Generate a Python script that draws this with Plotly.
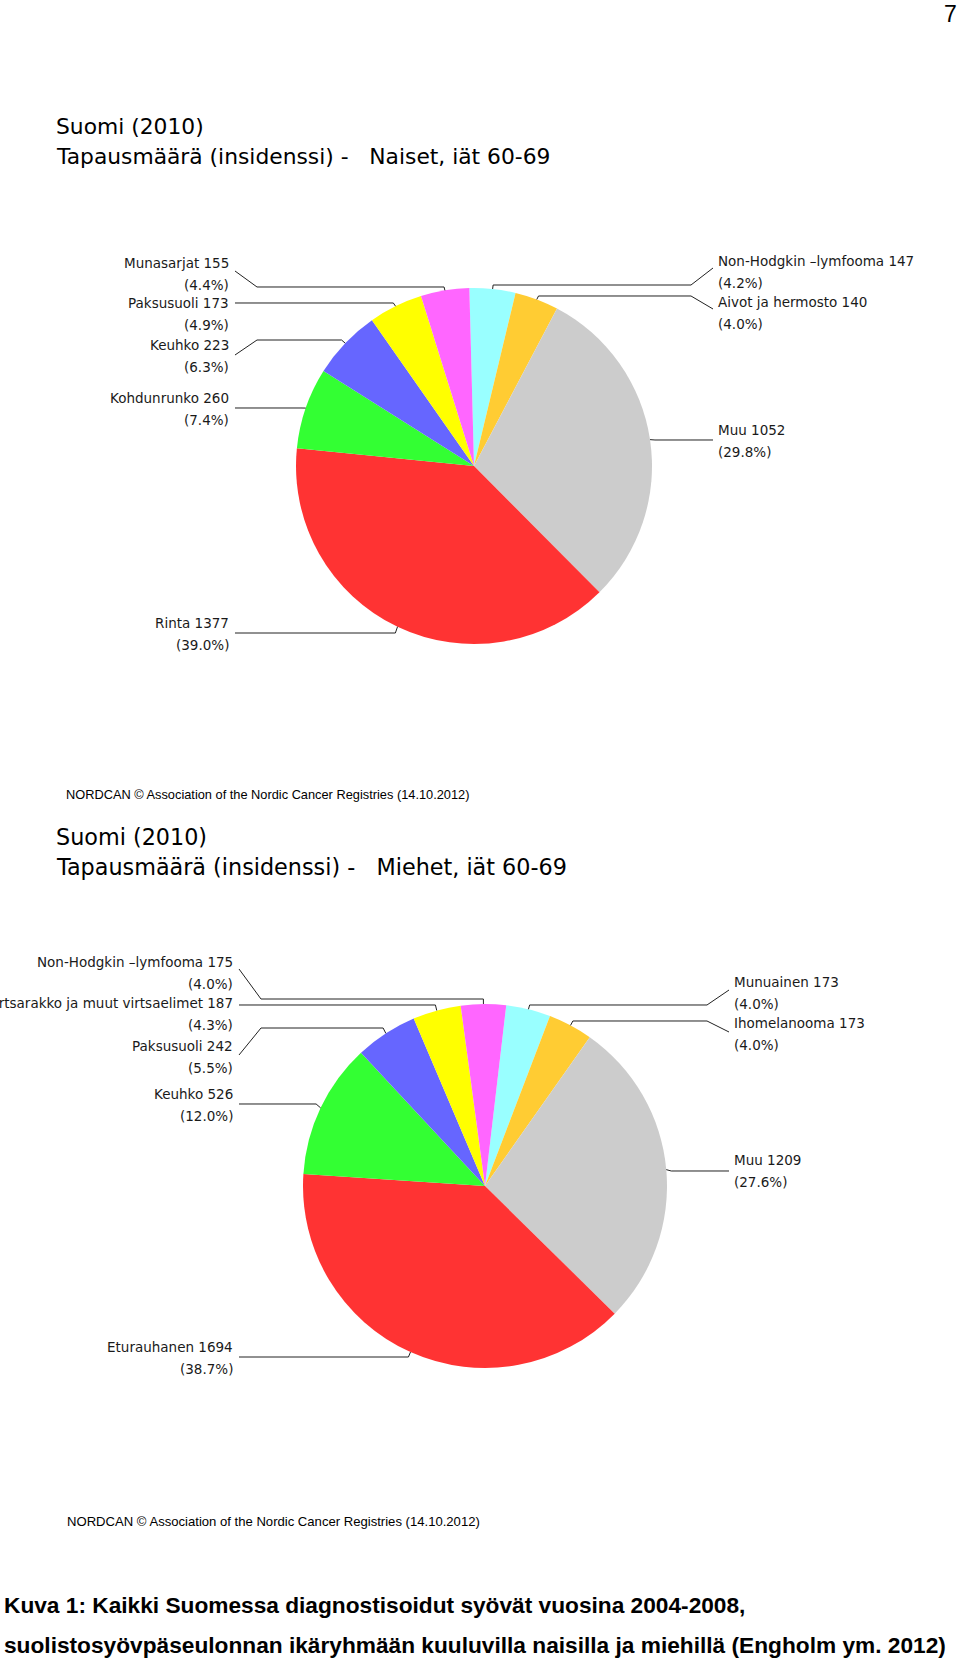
import math
import plotly.graph_objects as go

W, H = 960, 1660

# ---------------- data ----------------
women_labels = ["Non-Hodgkin –lymfooma", "Aivot ja hermosto", "Muu", "Rinta",
                "Kohdunrunko", "Keuhko", "Paksusuoli", "Munasarjat"]
women_values = [147, 140, 1052, 1377, 260, 223, 173, 155]

men_labels = ["Munuainen", "Ihomelanooma", "Muu", "Eturauhanen",
              "Keuhko", "Paksusuoli", "Virtsarakko ja muut virtsaelimet", "Non-Hodgkin –lymfooma"]
men_values = [173, 173, 1209, 1694, 526, 242, 187, 175]

slice_colors = ["#99FFFF", "#FFCC33", "#CCCCCC", "#FF3333",
                "#33FF33", "#6666FF", "#FFFF00", "#FF66FF"]

title_line1 = "Suomi (2010)"
women_title2 = "Tapausmäärä (insidenssi) -\u00a0\u00a0 Naiset, iät 60-69"
men_title2 = "Tapausmäärä (insidenssi) -\u00a0\u00a0 Miehet, iät 60-69"
source_text = "NORDCAN © Association of the Nordic Cancer Registries (14.10.2012)"
caption1 = "Kuva 1: Kaikki Suomessa diagnostisoidut syövät vuosina 2004-2008,"
caption2 = "suolistosyövpäseulonnan ikäryhmään kuuluvilla naisilla ja miehillä (Engholm ym. 2012)"
page_no = "7"

# ---------------- layout constants (pixels) ----------------
PIE1 = dict(cx=474, cy=466, r=178, rot=-1.5)
PIE2 = dict(cx=485, cy=1186, r=182, rot=6.7)

# side, name_y, start_y, line_y
LAB1 = [("R", 261, 268, 285), ("R", 302, 309, 296), ("R", 430, 440, 440),
        ("L", 623, 633, 633), ("L", 398, 408, 408), ("L", 345, 355, 340),
        ("L", 303, 303, 303), ("L", 263, 271, 287)]
TXT1 = dict(L=231, R=716)

LAB2 = [("R", 982, 990, 1005), ("R", 1023, 1032, 1021), ("R", 1160, 1171, 1171),
        ("L", 1347, 1357, 1357), ("L", 1094, 1104, 1104), ("L", 1046, 1055, 1028),
        ("L", 1003, 1005, 1005), ("L", 962, 969, 999)]
TXT2 = dict(L=235, R=732)

LABEL_FONT = dict(family="DejaVu Sans", size=13.5, color="#1a1a1a")
LINE_COLOR = "#222222"


def px(x):
    return x / W


def py(y):
    return 1 - y / H


fig = go.Figure()
annotations = []
shapes = []


def add_pie(labels, values, geo, labs, txt):
    cx, cy, r, rot = geo["cx"], geo["cy"], geo["r"], geo["rot"]
    fig.add_trace(go.Pie(
        labels=labels, values=values, sort=False, direction="clockwise",
        rotation=rot, marker=dict(colors=slice_colors, line=dict(width=0)),
        textinfo="none", hoverinfo="label+value+percent", showlegend=False,
        domain=dict(x=[px(cx - r), px(cx + r)], y=[py(cy + r), py(cy - r)]),
    ))
    total = sum(values)
    cum = 0
    for i, (lab, v) in enumerate(zip(labels, values)):
        mid = rot + (cum + v / 2) / total * 360
        cum += v
        a = math.radians(mid)
        ux, uy = math.sin(a), -math.cos(a)
        ex, ey = cx + r * ux, cy + r * uy
        side, name_y, start_y, line_y = labs[i]
        tx = txt[side]
        if side == "L":
            sx = tx + 4
            dx = sx + 22
            anchor = "right"
        else:
            sx = tx - 3
            dx = sx - 22
            anchor = "left"
        tpx = ex + 5 * ux
        pts = [(sx, start_y), (dx, line_y), (tpx, line_y), (ex, ey)]
        path = "M " + " L ".join(f"{px(x):.5f},{py(y):.5f}" for x, y in pts)
        shapes.append(dict(type="path", xref="paper", yref="paper", path=path,
                           line=dict(color=LINE_COLOR, width=1)))
        pct = f"({v / total * 100:.1f}%)"
        annotations.append(dict(x=px(tx), y=py(name_y), xref="paper", yref="paper",
                                text=f"{lab} {v}", showarrow=False, xanchor=anchor,
                                yanchor="middle", font=LABEL_FONT))
        annotations.append(dict(x=px(tx), y=py(name_y + 22), xref="paper", yref="paper",
                                text=pct, showarrow=False, xanchor=anchor,
                                yanchor="middle", font=LABEL_FONT))


add_pie(women_labels, women_values, PIE1, LAB1, TXT1)
add_pie(men_labels, men_values, PIE2, LAB2, TXT2)


def text(x, y, s, size, family="DejaVu Sans", anchor="left", bold=False, color="#000"):
    if bold:
        s = f"<b>{s}</b>"
    annotations.append(dict(x=px(x), y=py(y), xref="paper", yref="paper", text=s,
                            showarrow=False, xanchor=anchor, yanchor="middle",
                            font=dict(family=family, size=size, color=color)))


text(959, 14, page_no, 23, family="Liberation Sans", anchor="right")
text(54, 126, title_line1, 21.8)
text(54, 156, women_title2, 21.8)
text(64, 795, source_text, 12.8, family="Liberation Sans")
text(54, 837, title_line1, 22.3)
text(54, 867, men_title2, 22.3)
text(65, 1521, source_text, 13.1, family="Liberation Sans")
text(2, 1605, caption1, 22.7, family="Liberation Sans", bold=True)
text(2, 1645, caption2, 22.7, family="Liberation Sans", bold=True)

fig.update_layout(
    width=W, height=H, margin=dict(l=0, r=0, t=0, b=0),
    paper_bgcolor="white", plot_bgcolor="white",
    annotations=annotations, shapes=shapes, showlegend=False,
)

fig.write_html("out.html")
